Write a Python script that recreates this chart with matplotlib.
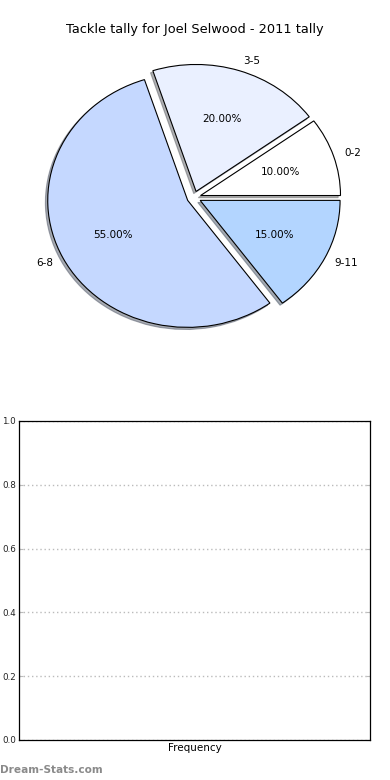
import matplotlib
matplotlib.use("Agg")
import matplotlib.pyplot as plt

# tackle ranges and share of games (percent)
ranges = ["0-2", "3-5", "6-8", "9-11"]
shares = [10, 20, 55, 15]
colors = ["#ffffff", "#eaf0ff", "#c5d8ff", "#b3d5ff"]
explode = [0.05, 0.05, 0.05, 0.05]

title = "Tackle tally for Joel Selwood - 2011 tally"
yticks = [0.0, 0.2, 0.4, 0.6, 0.8, 1.0]

fig = plt.figure(figsize=(3.9, 7.8), dpi=100)

# pie (not forced to equal aspect, so it comes out slightly oval)
ax1 = fig.add_axes([0.0487, 0.5433, 0.897, 0.407])
wedges, texts, autotexts = ax1.pie(
    shares, labels=ranges, colors=colors, explode=explode,
    autopct="%.2f%%", shadow=dict(ox=-0.012, oy=-0.012, shade=0.6),
    startangle=0, labeldistance=1.08, pctdistance=0.6,
    wedgeprops=dict(edgecolor="black", linewidth=0.8),
    textprops=dict(fontsize=7.5))
ax1.set_aspect("auto")
ax1.set_xlim(-1.25, 1.25)
ax1.set_ylim(-1.25, 1.25)
fig.text(0.5, 1 - 30 / 780, title, ha="center", va="center", fontsize=9.3)

# empty frequency panel
ax2 = fig.add_axes([0.0487, 0.0513, 0.9, 0.409])
ax2.set_ylim(0, 1)
ax2.set_yticks(yticks)
ax2.set_yticklabels(["%.1f" % v for v in yticks], fontsize=6.3, color="#222222")
ax2.set_xticks([])
ax2.tick_params(axis="y", direction="in", length=3, color="#bbbbbb",
                right=True, pad=2)
ax2.yaxis.grid(True, linestyle=(0, (1, 2)), color="#bbbbbb", linewidth=1.0)
ax2.set_axisbelow(True)
ax2.set_xlabel("Frequency", fontsize=7.5, labelpad=2)
for s in ax2.spines.values():
    s.set_linewidth(0.9)

fig.text(0.0, 1 - 770 / 780, "Dream-Stats.com", ha="left", va="center",
         fontsize=7.6, color="#8a8a8a", fontweight="semibold")

fig.savefig("out.png", dpi=100)
